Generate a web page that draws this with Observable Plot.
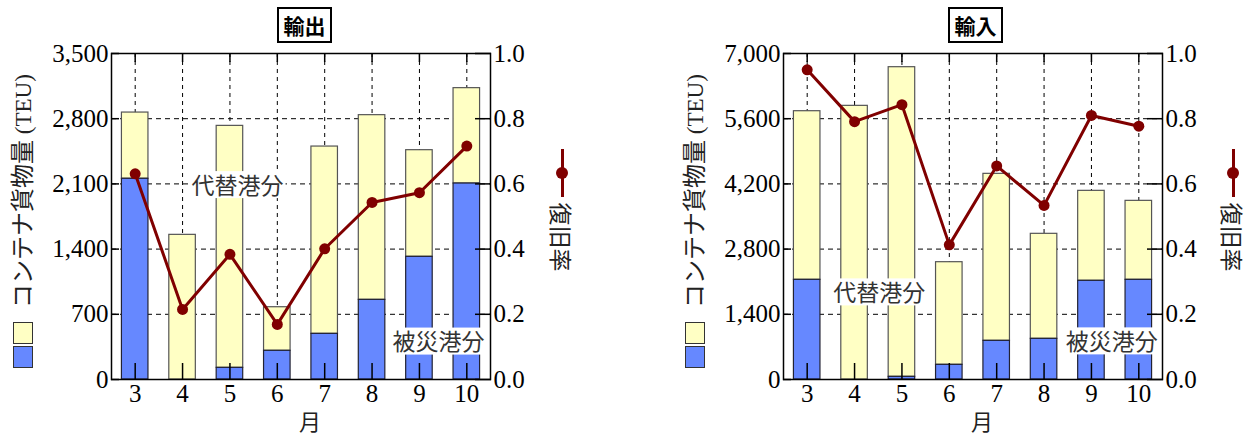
<!DOCTYPE html>
<html>
<head>
<meta charset="utf-8">
<script src="https://cdn.jsdelivr.net/npm/d3@7"></script>
<script src="https://cdn.jsdelivr.net/npm/@observablehq/plot@0.6"></script>
<style>
  html, body { margin: 0; padding: 0; background: white; }
  #wrap { position: relative; width: 1252px; height: 436px; overflow: hidden; font-family: 'Liberation Serif', 'Noto Sans CJK JP', serif; }
  .pl { position: absolute; top: 0; }
  .title { position: absolute; top: 7px; height: 32px; width: 51px; border: 2px solid black; font-family: 'Noto Sans CJK JP', sans-serif; font-weight: bold; font-size: 21px; line-height: 32px; text-align: center; background: white; }
  .ylab { position: absolute; white-space: nowrap; transform: translate(-50%, -50%) rotate(-90deg); color: #222; line-height: 26px; }
  .ylab .jp { font-family: 'Noto Sans CJK JP', sans-serif; font-size: 24px; }
  .ylab .en { font-family: 'Liberation Serif', serif; font-size: 23px; }
  .rlab { position: absolute; white-space: nowrap; font-size: 23px; font-family: 'Noto Sans CJK JP', sans-serif; transform: translate(-50%, -50%) rotate(90deg); color: #222; }
  .sw { position: absolute; width: 18px; height: 20px; border: 1px solid #333; }
  .lg-line { position: absolute; width: 3px; height: 48px; background: #800000; }
  .lg-dot { position: absolute; width: 12px; height: 12px; border-radius: 50%; background: #800000; }
</style>
</head>
<body>
<div id="wrap"></div>
<script>
// ---- data ----
const months = [3, 4, 5, 6, 7, 8, 9, 10];

// 輸出 (export)
const exportTotal  = [2866, 1553, 2723, 776, 2501, 2838, 2462, 3128];
const exportHit    = [2155, 0, 125, 308, 490, 855, 1317, 2104];
const exportRate   = [0.631, 0.215, 0.384, 0.169, 0.401, 0.543, 0.573, 0.716];
const exportTicks  = [0, 700, 1400, 2100, 2800, 3500];

// 輸入 (import)
const importTotal  = [5761, 5876, 6706, 2519, 4416, 3128, 4051, 3836];
const importHit    = [2140, 0, 57, 315, 830, 873, 2119, 2140];
const importRate   = [0.950, 0.791, 0.843, 0.413, 0.655, 0.534, 0.810, 0.777];
const importTicks  = [0, 1400, 2800, 4200, 5600, 7000];

const rateLabel = "復旧率";
const yLabelJp = "コンテナ貨物量";
const yLabelEn = "(TEU)";
const xLabel = "月";
const altLabel = "代替港分";
const hitLabel = "被災港分";

// annotation anchor points (data coordinates: month, TEU)
const exportNotes = [{m: 5.16, v: 2075, t: altLabel}, {m: 9.4, v: 395, t: hitLabel}];
const importNotes = [{m: 4.52, v: 1846, t: altLabel}, {m: 9.43, v: 794, t: hitLabel}];

const BLUE = "#6688ff", YELLOW = "#ffffc4", RED = "#800000";

function panel(totals, hits, rates, ticks, notes, ml, mr) {
  const ymax = ticks[ticks.length - 1];
  const rows = months.map((m, i) => ({m, b: hits[i], t: totals[i], r: rates[i] * ymax}));
  const hw = 0.28;
  return Plot.plot({
    width: 626, height: 436,
    marginLeft: ml, marginRight: mr, marginTop: 53, marginBottom: 57,
    x: {type: "linear", domain: [2.5, 10.5], label: null},
    y: {domain: [0, ymax], label: null},
    style: {fontFamily: "'Liberation Serif', 'Noto Sans CJK JP', serif", fontSize: "25px", color: "black", background: "transparent", overflow: "visible"},
    marks: [
      Plot.gridX(months, {stroke: "black", strokeOpacity: 1, strokeDasharray: "4,4", strokeWidth: 1}),
      Plot.gridY(ticks.slice(1, -1), {stroke: "black", strokeOpacity: 1, strokeDasharray: "5,4", strokeWidth: 1}),
      Plot.rectY(rows, {x1: d => d.m - hw, x2: d => d.m + hw, y1: d => d.b, y2: d => d.t, fill: YELLOW, stroke: "#555", strokeWidth: 1.2}),
      Plot.rectY(rows.filter(d => d.b > 0), {x1: d => d.m - hw, x2: d => d.m + hw, y1: 0, y2: d => d.b, fill: BLUE, stroke: "#223", strokeWidth: 1.2}),
      Plot.text(notes, {x: "m", y: "v", text: "t", fontFamily: "'Noto Sans CJK JP', sans-serif", fontSize: 23, fill: "#333"}),
      Plot.frame({stroke: "black", strokeWidth: 1.5}),
      Plot.axisX({ticks: months, tickSize: -16, tickPadding: 21, tickFormat: d => String(d), label: null, strokeWidth: 1.5}),
      Plot.axisX({anchor: "top", ticks: months, tickSize: -8, tickFormat: () => "", label: null, strokeWidth: 1.5}),
      Plot.axisY({ticks: ticks, tickSize: -8, tickPadding: 11, tickFormat: d3.format(","), label: null, strokeWidth: 1.5}),
      Plot.axisY({anchor: "right", ticks: ticks, tickSize: -16, tickPadding: 19, tickFormat: d => (d / ymax).toFixed(1), label: null, strokeWidth: 1.5}),
      Plot.line(rows, {x: "m", y: "r", stroke: RED, strokeWidth: 3}),
      Plot.dot(rows, {x: "m", y: "r", r: 5.5, fill: RED}),
      Plot.text([xLabel], {frameAnchor: "bottom", lineAnchor: "middle", dx: 9, dy: 43, fontFamily: "'Noto Sans CJK JP', sans-serif", fontSize: 22, fill: "#222"})
    ]
  });
}

const wrap = document.getElementById("wrap");
const p1 = panel(exportTotal, exportHit, exportRate, exportTicks, exportNotes, 111, 136);
p1.classList.add("pl"); p1.style.left = "0px";
const p2 = panel(importTotal, importHit, importRate, importTicks, importNotes, 157, 90);
p2.classList.add("pl"); p2.style.left = "626px";
wrap.appendChild(p1); wrap.appendChild(p2);

// white boxes behind the annotations
[p1, p2].forEach(svg => {
  svg.querySelectorAll("text").forEach(t => {
    if (t.textContent !== altLabel && t.textContent !== hitLabel) return;
    const bb = t.getBBox();
    const r = document.createElementNS("http://www.w3.org/2000/svg", "rect");
    const h = 27, cy = bb.y + bb.height / 2 + 1;
    r.setAttribute("x", bb.x - 2);
    r.setAttribute("width", bb.width + 4);
    r.setAttribute("y", cy - h / 2);
    r.setAttribute("height", h);
    r.setAttribute("fill", "white");
    r.setAttribute("stroke", "none");
    if (t.getAttribute("transform")) r.setAttribute("transform", t.getAttribute("transform"));
    t.parentNode.insertBefore(r, t);
  });
});

function el(cls, css, html) {
  const d = document.createElement("div");
  d.className = cls;
  Object.assign(d.style, css);
  if (html) d.innerHTML = html;
  wrap.appendChild(d);
  return d;
}
// titles
el("title", {left: "277px"}, "輸出");
el("title", {left: "948px"}, "輸入");
// y labels + swatches
[[23, 13], [695, 685]].forEach(([cx, sx]) => {
  const d = el("ylab", {left: cx + "px", top: "191px"});
  const a = document.createElement("span"); a.className = "jp"; a.textContent = yLabelJp;
  const b = document.createElement("span"); b.className = "en"; b.textContent = " " + yLabelEn;
  d.appendChild(a); d.appendChild(b);
  el("sw", {left: sx + "px", top: "322px", background: YELLOW});
  el("sw", {left: sx + "px", top: "346px", background: BLUE});
});
// right legends
[562, 1233].forEach(cx => {
  el("lg-line", {left: (cx - 1.5) + "px", top: "149px"});
  el("lg-dot", {left: (cx - 6) + "px", top: "167px"});
  el("rlab", {left: cx + "px", top: "237px"}, rateLabel);
});
</script>
</body>
</html>
